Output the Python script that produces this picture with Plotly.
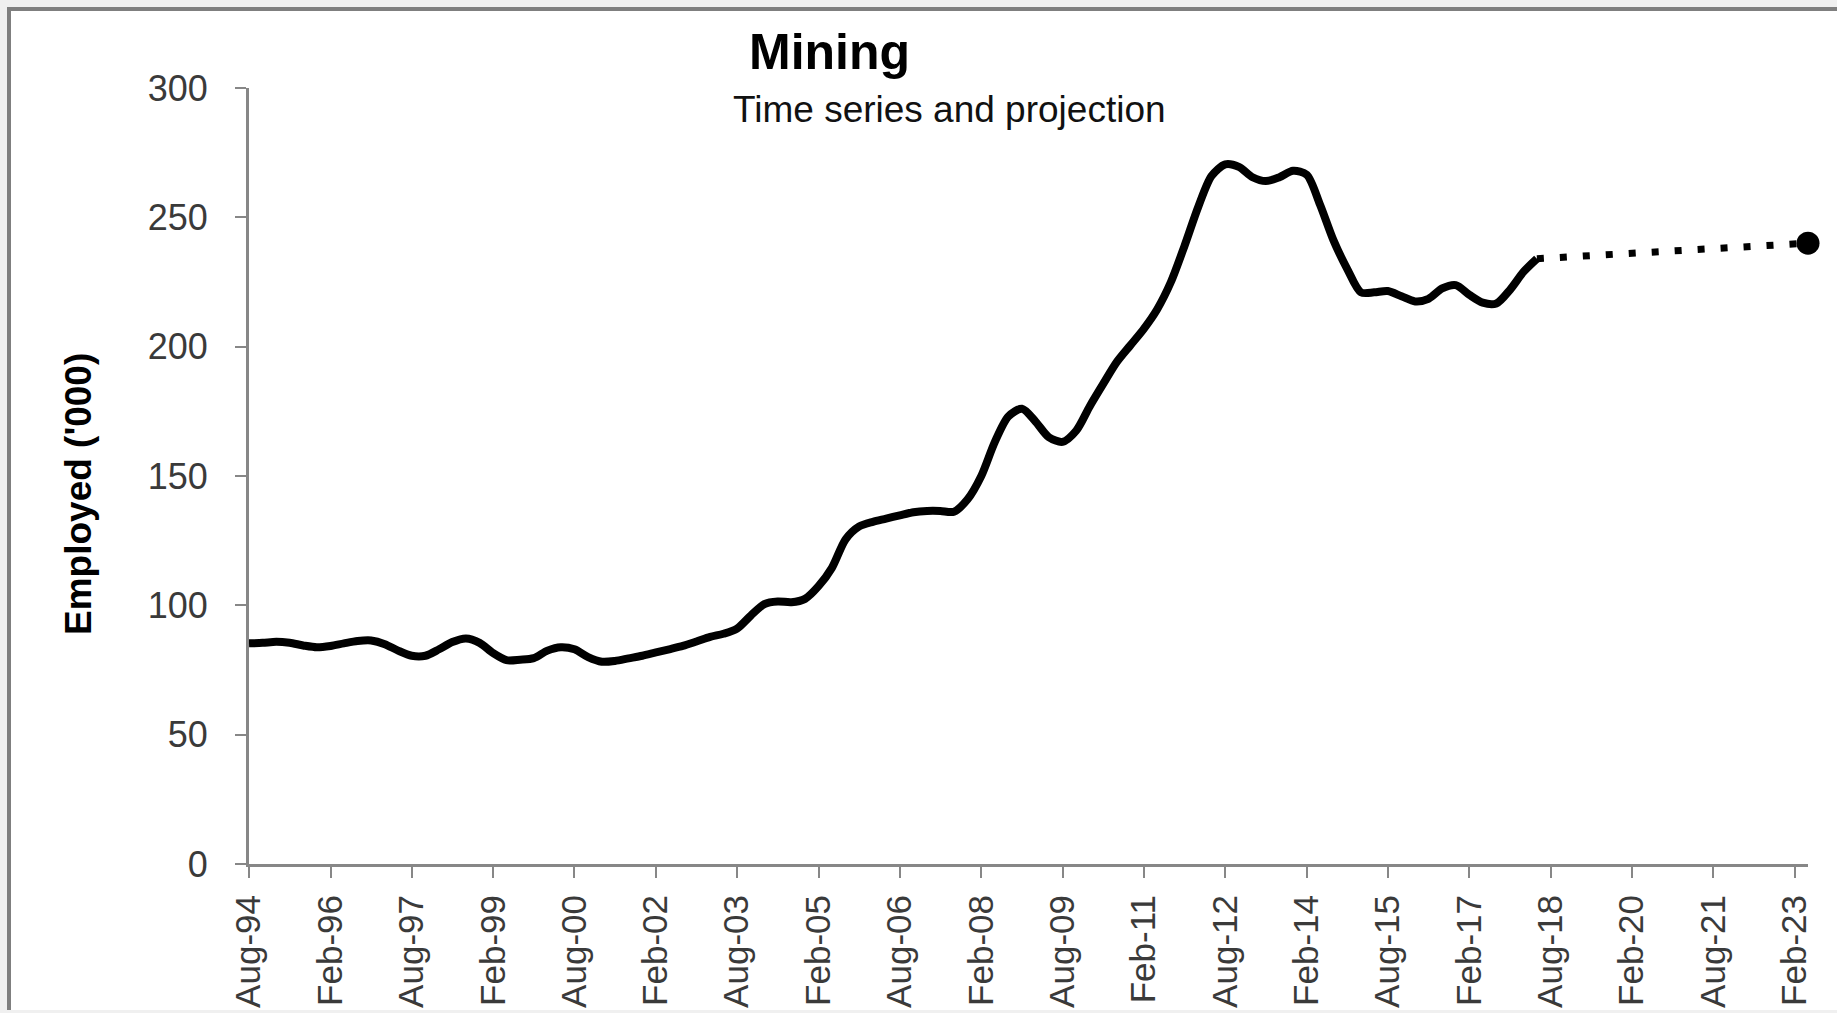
import plotly.graph_objects as go
import pandas as pd

# ---- data (quarterly, '000 employed) ----
start_month = "1994-08-01"
employed = [
    85.3, 85.5, 85.9, 85.5, 84.5, 83.8, 84.3, 85.3, 86.2, 86.4,
    85.0, 82.5, 80.5, 80.5, 83.0, 85.8, 87.2, 85.5, 81.5, 78.8,
    79.0, 79.6, 82.5, 83.8, 83.0, 80.0, 78.2, 78.5, 79.5, 80.5,
    81.8, 83.0, 84.3, 86.0, 87.8, 89.0, 91.0, 96.0, 100.5, 101.5,
    101.2, 102.5, 107.5, 114.5, 125.5, 130.5, 132.3, 133.5, 134.8, 136.0,
    136.5, 136.5, 136.2, 141.0, 150.0, 163.0, 173.0, 176.0, 171.0, 165.0,
    163.2, 167.5, 177.0, 185.5, 194.0, 200.5, 207.0, 214.5, 225.0, 239.0,
    254.0, 266.0, 270.5, 269.5, 265.5, 264.0, 265.5, 268.0, 266.5, 255.0,
    241.0, 230.0, 221.0, 221.0, 221.5, 219.5, 217.5, 218.5, 222.5, 223.8,
    220.0, 217.0, 216.7, 222.0, 229.0, 234.0,
]
dates = pd.date_range(start=start_month, periods=len(employed), freq="3MS")

proj_dates = ["2018-05-01", "2023-05-01"]
proj_values = [234.0, 240.0]

title_text = "Mining"
subtitle_text = "Time series and projection"
y_title = "Employed ('000)"

# ---- layout geometry (pixels) ----
W, H = 1837, 1013
L, R, T, B = 249, 1808, 88, 864


def px_x(p):
    return (p - L) / (R - L)


def px_y(p):
    return (B - p) / (B - T)


FONT = "Liberation Sans, Arial, sans-serif"
AXIS_GRAY = "#878787"

fig = go.Figure()

fig.add_trace(go.Scatter(
    x=dates, y=employed, mode="lines",
    line=dict(color="black", width=8, shape="spline", smoothing=0.8),
    showlegend=False, hoverinfo="x+y",
))

fig.add_trace(go.Scatter(
    x=proj_dates, y=proj_values, mode="lines",
    line=dict(color="black", width=7, dash="7px,16px"),
    showlegend=False, hoverinfo="skip",
))

fig.add_trace(go.Scatter(
    x=[proj_dates[-1]], y=[proj_values[-1]], mode="markers",
    marker=dict(color="black", size=23),
    showlegend=False, cliponaxis=False,
))

fig.update_layout(
    width=W, height=H, autosize=False,
    margin=dict(l=L, r=W - R, t=T, b=H - B, pad=0),
    paper_bgcolor="#f0f0f0",
    plot_bgcolor="white",
    font=dict(family=FONT, color="#3a3a3a"),
    xaxis=dict(
        type="date",
        range=["1994-08-01", "2023-05-01"],
        tick0="1994-08-01", dtick="M18", tickformat="%b-%y",
        tickangle=-90, automargin=False,
        showline=True, linecolor=AXIS_GRAY, linewidth=3,
        ticks="outside", ticklen=11, tickwidth=2, tickcolor=AXIS_GRAY,
        showgrid=False, zeroline=False,
        tickfont=dict(family=FONT, size=35, color="#3a3a3a"),
        ticklabelstandoff=3,
    ),
    yaxis=dict(
        range=[0, 300], tick0=0, dtick=50, automargin=False,
        showline=True, linecolor=AXIS_GRAY, linewidth=3,
        ticks="outside", ticklen=11, tickwidth=2, tickcolor=AXIS_GRAY,
        showgrid=False, zeroline=False,
        tickfont=dict(family=FONT, size=36, color="#3a3a3a"),
        ticklabelstandoff=20,
    ),
    shapes=[
        dict(type="rect", xref="paper", yref="paper", layer="below",
             x0=px_x(8), x1=px_x(1900), y0=px_y(1010), y1=px_y(8),
             fillcolor="white", line=dict(width=0)),
        dict(type="line", xref="paper", yref="paper", layer="below",
             x0=px_x(7), x1=px_x(1900), y0=px_y(9), y1=px_y(9),
             line=dict(color="#7f7f7f", width=4)),
        dict(type="line", xref="paper", yref="paper", layer="below",
             x0=px_x(9), x1=px_x(9), y0=px_y(7), y1=px_y(1010),
             line=dict(color="#7f7f7f", width=4)),
    ],
    annotations=[
        dict(text="<b>" + title_text + "</b>", xref="paper", yref="paper",
             x=px_x(829), y=px_y(52), xanchor="center", yanchor="middle",
             showarrow=False, font=dict(family=FONT, size=50, color="black")),
        dict(text=subtitle_text, xref="paper", yref="paper",
             x=px_x(949), y=px_y(109), xanchor="center", yanchor="middle",
             showarrow=False, font=dict(family=FONT, size=37, color="#111111")),
        dict(text="<b>" + y_title + "</b>", xref="paper", yref="paper",
             x=px_x(79), y=px_y(494), xanchor="center", yanchor="middle",
             textangle=-90, showarrow=False,
             font=dict(family=FONT, size=37, color="black")),
    ],
)

fig.write_html("out.html", include_plotlyjs=True,
               config={"displayModeBar": False},
               post_script="document.body.style.margin='0';")
